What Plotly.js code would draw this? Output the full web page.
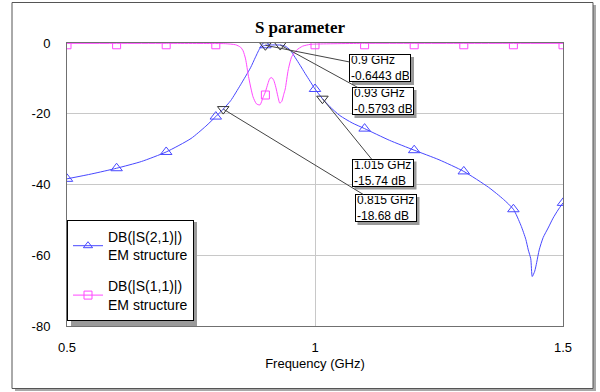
<!DOCTYPE html>
<html><head><meta charset="utf-8">
<script src="https://cdn.plot.ly/plotly-3.0.1.min.js"></script>
<style>html,body{margin:0;padding:0;background:#fff}#chart{width:600px;height:392px}</style>
</head><body><div id="chart"></div>
<script>
// ---- data ----
const s21Freq = [0.5,0.55,0.6,0.65,0.7,0.75,0.78,0.8,0.815,0.83,0.85,0.87,0.88,0.89,0.9,0.91,0.92,0.93,0.94,0.95,0.96,0.97,0.98,0.99,1.0,1.015,1.03,1.05,1.075,1.1,1.15,1.2,1.25,1.3,1.35,1.38,1.4,1.415,1.425,1.43,1.435,1.438,1.443,1.447,1.452,1.46,1.47,1.48,1.49,1.5];
const s21Db   = [-38.4,-37.0,-35.4,-33.5,-30.8,-27.0,-23.5,-20.8,-18.68,-16.3,-11.8,-7.0,-4.0,-1.3,-0.64,-0.55,-0.55,-0.58,-0.9,-2.0,-4.1,-6.3,-8.6,-10.8,-13.0,-15.74,-18.0,-20.5,-22.6,-24.2,-27.5,-30.3,-33.0,-36.3,-40.8,-44.2,-47.0,-51.5,-55.5,-58.5,-61.0,-66.0,-64.5,-62.0,-58.5,-55.0,-52.3,-49.5,-47.2,-45.2];
const s11Freq = [0.5,0.6,0.7,0.8,0.82,0.84,0.85,0.855,0.86,0.866,0.875,0.882,0.889,0.895,0.9,0.905,0.909,0.913,0.917,0.921,0.925,0.929,0.933,0.937,0.94,0.946,0.953,0.963,0.975,0.99,1.0,1.1,1.2,1.3,1.4,1.5];
const s11Db   = [-0.1,-0.1,-0.1,-0.15,-0.2,-0.5,-1.2,-2.2,-4.5,-9.5,-15.2,-17.2,-17.5,-15.5,-13.8,-11.5,-10.0,-9.8,-10.6,-12.5,-15.0,-17.0,-16.5,-14.5,-13.0,-7.6,-3.9,-2.0,-0.9,-0.4,-0.3,-0.1,-0.1,-0.1,-0.1,-0.1];
const markFreqGrid = [0.5,0.6,0.7,0.8,0.9,1.0,1.1,1.2,1.3,1.4,1.5];
const s21MarkDb = [-38.4,-35.4,-30.8,-20.8,-0.64,-13.0,-24.2,-30.3,-36.3,-47.0,-45.2];
const s11MarkDb = [-0.5,-0.5,-0.5,-0.5,-14.7,-0.5,-0.5,-0.5,-0.5,-0.5,-0.5];
const readoutFreq = [0.9,0.93,1.015,0.815];
const readoutDb   = [-0.6443,-0.5793,-15.74,-18.68];
const seriesNames = ['DB(|S(2,1)|)<br>EM structure','DB(|S(1,1)|)<br>EM structure'];
const xTicks = [0.5,1,1.5];
const yTicks = [0,-20,-40,-60,-80];

// ---- layout helpers ----
const W=600,H=392,M={l:67,r:37,t:43,b:66};
const PW=W-M.l-M.r, PH=H-M.t-M.b;
const XR=[0.5,1.5], YR=[-80,0];
const px=x=>(x-M.l)/PW, py=y=>(H-M.b-y)/PH;
const dx=p=>XR[0]+(p-M.l)/PW*(XR[1]-XR[0]);
const dy=p=>YR[1]-(p-M.t)/PH*(YR[1]-YR[0]);
const boxCenters=[[380,68],[382.5,101],[382.5,172.5],[385.5,208]];
const BW=62, BH=28;

const blue='#4848ff', mag='#ff48ff', dark='#333333';
const traces=[
 {x:s21Freq,y:s21Db,mode:'lines',line:{color:blue,width:1,shape:'spline',smoothing:0.6},showlegend:false,hoverinfo:'skip'},
 {x:s11Freq,y:s11Db,mode:'lines',line:{color:mag,width:1,shape:'spline',smoothing:0.6},showlegend:false,hoverinfo:'skip'},
 {x:markFreqGrid,y:s21MarkDb,mode:'markers',marker:{symbol:'triangle-up-open',size:10,color:blue,line:{width:1}},showlegend:false},
 {x:markFreqGrid,y:s11MarkDb,mode:'markers',marker:{symbol:'square-open',size:8,color:mag,line:{width:1}},showlegend:false},
 {x:readoutFreq,y:readoutDb,mode:'markers',marker:{symbol:'triangle-down-open',size:10,color:dark,line:{width:1}},showlegend:false},
 {x:[null],y:[null],mode:'lines+markers',name:seriesNames[0],line:{color:blue,width:1},marker:{symbol:'triangle-up-open',size:8,color:blue},legendgroup:'a'},
 {x:[null],y:[null],mode:'lines+markers',name:seriesNames[1],line:{color:mag,width:1},marker:{symbol:'square-open',size:8,color:mag},legendgroup:'b'}
];

const shapes=[
 {type:'rect',xref:'paper',yref:'paper',x0:px(15),x1:px(596),y0:py(5),y1:py(391),fillcolor:'#a8a8a8',line:{width:0},layer:'below'},
 {type:'rect',xref:'paper',yref:'paper',x0:px(12),x1:px(593),y0:py(2.5),y1:py(388.5),fillcolor:'#ffffff',line:{color:'#555',width:1},layer:'below'},
 {type:'rect',xref:'paper',yref:'paper',x0:px(71),x1:px(197),y0:py(222),y1:py(326),fillcolor:'#9a9a9a',line:{width:0},layer:'above'}
];
const annotations=[];
readoutFreq.forEach((f,i)=>{
  const [cx,cy]=boxCenters[i];
  shapes.push({type:'rect',xref:'paper',yref:'paper',x0:px(cx-BW/2+3),x1:px(cx+BW/2+3),y0:py(cy+BH/2+3),y1:py(cy-BH/2+3),fillcolor:'#9a9a9a',line:{width:0},layer:'above'});
  annotations.push({x:f,y:readoutDb[i],xref:'x',yref:'y',axref:'x',ayref:'y',ax:dx(cx),ay:dy(cy),
    text:f+' GHz<br>'+readoutDb[i]+' dB',align:'left',showarrow:true,arrowhead:0,arrowwidth:1,arrowcolor:'#444',
    font:{family:'Liberation Sans, Arial',size:12,color:'#000'},bgcolor:'#fff',bordercolor:'#000',borderwidth:1,borderpad:1,
    width:BW-4,height:BH-4});
});

const layout={
 width:W,height:H,margin:M,paper_bgcolor:'#fff',plot_bgcolor:'#fff',
 title:{text:'<b>S parameter</b>',font:{family:'Liberation Serif, Times New Roman',size:17,color:'#000'},x:px(315),xanchor:'center',y:1-27/H,yanchor:'middle'},
 font:{family:'Liberation Sans, Arial',size:13,color:'#000'},
 xaxis:{range:XR,tickvals:xTicks,ticktext:xTicks.map(String),showgrid:true,gridcolor:'#c8c8c8',zeroline:false,
   showline:true,mirror:true,linecolor:'#707070',linewidth:1,ticks:'outside',ticklen:9,tickcolor:'rgba(0,0,0,0)',
   title:{text:'Frequency (GHz)',font:{size:13},standoff:5}},
 yaxis:{range:YR,tickvals:yTicks,ticktext:yTicks.map(String),showgrid:true,gridcolor:'#c8c8c8',zeroline:false,
   showline:true,mirror:true,linecolor:'#707070',linewidth:1,ticks:'outside',ticklen:13,tickcolor:'rgba(0,0,0,0)'},
 legend:{x:px(67),y:py(220),xanchor:'left',yanchor:'top',bgcolor:'#fff',bordercolor:'#000',borderwidth:1,
   font:{size:14},tracegroupgap:10,traceorder:'grouped'},
 shapes:shapes,annotations:annotations
};
Plotly.newPlot('chart',traces,layout,{staticPlot:true,displayModeBar:false});
</script></body></html>
